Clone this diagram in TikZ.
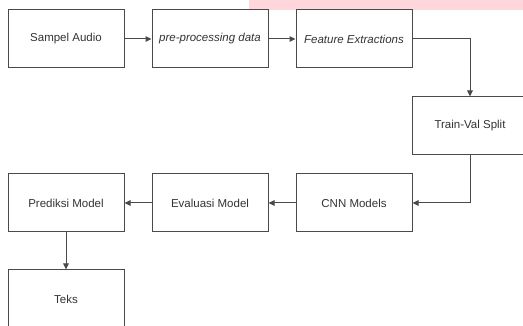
\documentclass[tikz,border=0pt]{standalone}
\usepackage{fontspec}
\setmainfont{Liberation Sans}
\usetikzlibrary{arrows.meta}
\definecolor{linec}{HTML}{4A4A4A}
\definecolor{textc}{HTML}{333333}
\definecolor{pinkc}{HTML}{FFD6DB}
\begin{document}
\begin{tikzpicture}[x=1pt,y=1pt,
  box/.style={draw=linec, line width=1pt, minimum width=116pt, minimum height=58pt, inner sep=0pt, text=textc, font=\fontsize{11.5}{14}\selectfont},
  conn/.style={draw=linec, line width=1pt, -{Triangle[length=6pt,width=5.5pt]}}]
\useasboundingbox (0,0) rectangle (523,-326);
\clip (0,0) rectangle (523,-326);
\fill[pinkc] (249,0) rectangle (523,-10);
\fill[white] (0,-10) rectangle (523,-326);
\node[box] (sa) at (66,-39) {Sampel Audio};
\node[box] (pp) at (210,-39) {\textit{pre-processing data}};
\node[box] (fe) at (354,-39) {\textit{Feature Extractions}};
\node[box] (tv) at (470,-126) {Train-Val Split};
\node[box] (cnn) at (354,-203) {CNN Models};
\node[box] (ev) at (210,-203) {Evaluasi Model};
\node[box] (pm) at (66,-203) {Prediksi Model};
\node[box] (tk) at (66,-299) {Teks};
\draw[conn] (sa) -- (pp);
\draw[conn] (pp) -- (fe);
\draw[conn] (fe.east) -| (tv.north);
\draw[conn] (tv.south) |- (cnn.east);
\draw[conn] (cnn) -- (ev);
\draw[conn] (ev) -- (pm);
\draw[conn] (pm) -- (tk);
\end{tikzpicture}
\end{document}
